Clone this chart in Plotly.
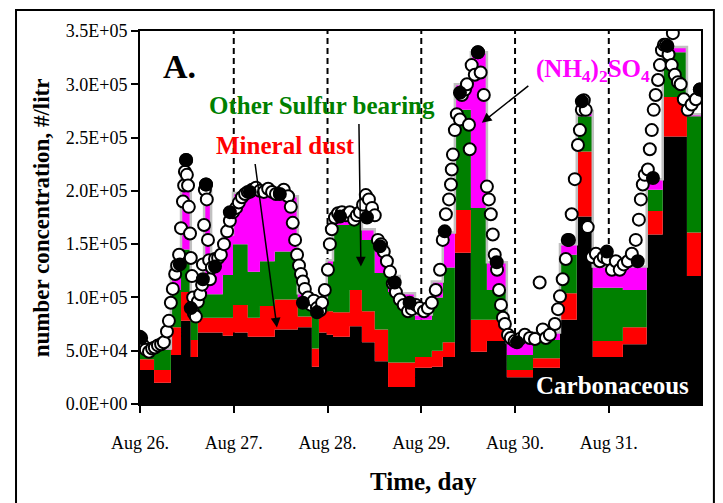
import plotly.graph_objects as go
from datetime import datetime, timedelta

# ---------------- data (concentrations in thousands of particles / litre) ----------------
BASE = datetime(2003, 8, 26)
END_HOUR = 143.6

# start of each sampling step, hours after Aug 26 00:00
seg_hours = [0.0, 3.6, 7.9, 10.5, 13.0, 14.8, 16.4, 18.2, 21.2, 23.8,
             27.6, 30.7, 34.5, 40.4, 44.0, 45.8, 47.8, 49.4, 53.7, 56.8,
             60.1, 63.5, 66.5, 70.4, 74.7, 77.5, 80.6, 84.7, 88.8, 93.9,
             100.6, 107.5, 111.8, 115.9, 123.6, 129.7, 133.8, 140.0]

carbonaceous = [32, 20, 46, 78, 44, 67, 67, 67, 64, 67,
                63, 63, 70, 72, 35, 67, 65, 63, 73, 58,
                40, 16, 16, 34, 35, 44, 142, 49, 59, 25,
                34, 79, 176, 44, 56, 159, 251, 120]
mineral_dust = [10, 12, 26, 27, 16, 14, 14, 14, 17, 26,
                18, 29, 28, 10, 17, 20, 22, 23, 34, 29,
                30, 23, 23, 10, 15, 14, 40, 30, 20, 7,
                9, 25, 61, 15, 16, 22, 37, 41]
other_sulfur = [9, 19, 35, 40, 30, 20, 22, 22, 40, 57,
                43, 42, 45, 18, 35, 3, 43, 82, 63, 67,
                53, 66, 61, 35, 50, 70, 94, 105, 28, 14,
                17, 36, 33, 50, 35, 20, 42, 109]
ammonium_sulfate = [1, 1, 21, 70, 8, 2, 103, 33, 38, 48,
                    74, 64, 52, 4, 3, 3, 5, 10, 8, 10,
                    25, 15, 4, 5, 15, 33, 24, 146, 26, 12,
                    7, 10, 5, 20, 22, 10, 5, 2]

# total measured concentration (open circles)
total_hours = [0.0, 0.8, 1.5, 2.3, 3.1, 3.8, 4.6, 5.4, 6.1, 6.9,
               7.4, 7.9, 8.4, 9.0, 9.5, 10.0, 10.5, 11.0, 11.3, 11.5,
               11.8, 12.0, 12.3, 12.5, 12.8, 13.0, 13.3, 13.6, 13.8, 14.3,
               14.8, 15.4, 15.9, 16.1, 16.4, 16.6, 16.9, 17.1, 17.4, 17.7,
               17.9, 18.4, 19.2, 20.0, 20.7, 21.5, 22.3, 23.0, 23.8, 24.6,
               25.3, 26.1, 26.9, 27.6, 28.7, 29.7, 30.7, 31.7, 32.8, 33.8,
               34.8, 35.8, 36.8, 37.9, 38.6, 39.1, 39.7, 40.2, 40.7, 41.2,
               41.7, 42.2, 43.0, 43.8, 44.5, 45.3, 46.1, 46.6, 47.3, 48.1,
               48.6, 49.1, 49.9, 50.7, 51.7, 52.7, 53.7, 54.8, 55.5, 56.3,
               57.1, 57.8, 58.6, 59.4, 60.1, 60.9, 61.7, 62.4, 63.2, 64.0,
               64.7, 65.5, 66.5, 67.5, 68.6, 69.6, 70.6, 71.6, 72.7, 73.7,
               74.7, 75.7, 76.8, 77.5, 78.3, 79.1, 79.6, 79.8, 80.1, 80.6,
               81.1, 81.9, 82.4, 83.2, 83.7, 84.2, 84.4, 84.9, 85.7, 86.5,
               87.2, 88.0, 88.8, 89.3, 89.8, 90.3, 90.8, 91.4, 91.9, 92.4,
               92.9, 93.4, 94.2, 94.9, 95.9, 97.2, 98.5, 99.8, 101.1, 102.3,
               103.1, 103.9, 104.9, 106.2, 107.0, 107.5, 108.2, 109.0, 109.8, 110.5,
               111.3, 112.1, 112.6, 113.1, 113.6, 114.1, 114.6, 115.7, 116.7, 117.7,
               118.7, 119.7, 120.8, 121.8, 122.8, 123.8, 124.9, 125.9, 126.9, 127.7,
               128.2, 128.7, 129.2, 130.0, 130.5, 131.0, 131.5, 132.0, 132.6, 133.1,
               133.6, 134.1, 134.6, 135.3, 136.1, 136.4, 136.9, 137.7, 138.4, 139.2,
               140.2, 141.2, 142.3, 143.3]
total_values = [63, 55, 51, 49, 52, 53, 55, 56, 58, 68,
                78, 95, 108, 122, 130, 140, 165, 190, 205, 218,
                229, 215, 205, 185, 160, 137, 120, 100, 85, 82,
                96, 103, 112, 131, 168, 201, 206, 192, 154, 135,
                117, 128, 136, 137, 140, 150, 162, 172, 180, 184,
                189, 194, 197, 199, 201, 203, 200, 199, 202, 199,
                197, 198, 201, 195, 185, 170, 154, 140, 130, 122,
                115, 108, 100, 93, 97, 90, 88, 95, 107, 126,
                150, 164, 175, 179, 180, 177, 180, 173, 177, 180,
                187, 196, 192, 184, 177, 154, 150, 143, 134, 124,
                113, 105, 98, 93, 87, 89, 93, 90, 87, 90,
                95, 107, 126, 154, 178, 192, 206, 220, 234, 257,
                272, 267, 290, 295, 300, 262, 239, 318, 309, 330,
                311, 290, 204, 192, 178, 159, 140, 126, 107, 93,
                81, 75, 65, 62, 59, 61, 65, 62, 61, 114,
                70, 62, 65, 75, 89, 101, 117, 136, 154, 178,
                211, 243, 257, 276, 285, 276, 166, 138, 141, 134,
                138, 136, 126, 134, 126, 131, 134, 141, 154, 173,
                192, 206, 215, 220, 239, 257, 276, 290, 304, 318,
                332, 337, 337, 328, 318, 348, 309, 302, 300, 286,
                276, 281, 286, 295]

# samples drawn as filled (dark) circles
dark_hours = [0.3, 10.2, 11.8, 13.0, 16.1, 16.9, 19.2, 23.0, 28.1, 35.8,
              41.7, 45.3, 51.2, 58.1, 61.4, 65.2, 69.0, 78.0, 81.9, 86.5,
              91.3, 96.5, 109.5, 113.1, 119.5, 127.4, 131.3, 135.0, 143.3]
dark_values = [62, 131, 229, 90, 117, 206, 129, 180, 199, 197,
               95, 86, 176, 175, 148, 114, 95, 162, 292, 330,
               133, 58, 154, 284, 143, 134, 212, 336, 295]

day_labels = ["Aug 26.", "Aug 27.", "Aug 28.", "Aug 29.", "Aug 30.", "Aug 31."]
y_ticks = [0, 50000, 100000, 150000, 200000, 250000, 300000, 350000]
y_ticktext = ["0.0E+00", "5.0E+04", "1.0E+05", "1.5E+05", "2.0E+05", "2.5E+05", "3.0E+05", "3.5E+05"]

# ---------------- figure ----------------
def t(h):
    return BASE + timedelta(hours=h)

FONT = "Liberation Serif"
seg_x = [t(h) for h in seg_hours] + [t(END_HOUR)]

def k(vals):
    v = [x * 1000 for x in vals]
    return v + [v[-1]]

fig = go.Figure()
layers = [
    ("Carbonaceous", carbonaceous, "#000000", dict(width=0, color="#000000")),
    ("Mineral dust", mineral_dust, "#ff0000", dict(width=0, color="#ff0000")),
    ("Other Sulfur bearing", other_sulfur, "#008000", dict(width=0, color="#008000")),
    ("(NH4)2SO4", ammonium_sulfate, "#ff00ff", dict(width=2.5, color="#c0c0c0")),
]
for name, vals, col, ln in layers:
    ln = dict(ln, shape="hv")
    fig.add_trace(go.Scatter(x=seg_x, y=k(vals), name=name, mode="lines",
                             stackgroup="comp", line=ln, fillcolor=col,
                             showlegend=False, hoverinfo="skip"))

fig.add_trace(go.Scatter(x=[t(h) for h in total_hours], y=[v * 1000 for v in total_values],
                         mode="markers", showlegend=False,
                         marker=dict(size=12, color="white", line=dict(color="black", width=2))))
fig.add_trace(go.Scatter(x=[t(h) for h in dark_hours], y=[v * 1000 for v in dark_values],
                         mode="markers", showlegend=False,
                         marker=dict(size=12, color="black", line=dict(color="black", width=2))))

shapes = []
for d in range(1, 6):
    shapes.append(dict(type="line", xref="x", yref="paper", x0=t(24 * d), x1=t(24 * d), y0=0, y1=1,
                       line=dict(color="black", width=2, dash="6px,4px"), layer="below"))
shapes.append(dict(type="rect", xref="paper", yref="paper", x0=-0.221, x1=1.023, y0=-0.27, y1=1.056,
                   line=dict(color="black", width=2), fillcolor="rgba(0,0,0,0)", layer="above"))

ann = []
def txt(text, x, y, size, color, angle=0):
    ann.append(dict(text=text, x=x, y=y, xref="paper", yref="paper", showarrow=False,
                    xanchor="center", yanchor="middle", textangle=angle,
                    font=dict(family=FONT, size=size, color=color)))

txt("<b>A.</b>", 0.0713, 0.9036, 34, "black")
txt("<b>Other Sulfur bearing</b>", 0.3244, 0.7992, 25, "#008000")
txt("<b>Mineral dust</b>", 0.2602, 0.6921, 25, "#ff0000")
txt("<b>(NH<sub>4</sub>)<sub>2</sub>SO<sub>4</sub></b>", 0.8075, 0.893, 25, "#ff00ff")
txt("<b>Carbonaceous</b>", 0.8431, 0.0495, 25, "white")
txt("<b>Time, day</b>", 0.506, -0.2075, 25, "black")
txt("<b>number concentration, #/litr</b>", -0.175, 0.50, 23, "black", angle=-90)

for hx, val, ax, ay in [(35.05, 71800, -22, -165), (56.55, 129000, -2, -144), (87.5, 264000, 48, -38)]:
    ann.append(dict(x=t(hx), y=val, xref="x", yref="y", text="", showarrow=True,
                    ax=ax, ay=ay, arrowhead=2, arrowsize=1.3, arrowwidth=1.5, arrowcolor="black"))

fig.update_layout(
    width=723, height=503,
    margin=dict(l=140, r=22, t=31, b=98.5),
    paper_bgcolor="white", plot_bgcolor="white",
    shapes=shapes, annotations=ann, showlegend=False,
    font=dict(family=FONT, color="black"),
    xaxis=dict(type="date", range=[t(0), t(END_HOUR)],
               tickvals=[t(24 * i) for i in range(6)], ticktext=day_labels,
               ticks="outside", ticklen=7, tickwidth=2, tickcolor="black",
               showline=True, linewidth=2, linecolor="black", mirror=True,
               showgrid=False, zeroline=False, ticklabelstandoff=14,
               tickfont=dict(family=FONT, size=18, color="black")),
    yaxis=dict(range=[0, 350000], tickvals=y_ticks, ticktext=y_ticktext,
               ticks="outside", ticklen=7, tickwidth=2, tickcolor="black",
               showline=True, linewidth=2, linecolor="black", mirror=True,
               showgrid=False, zeroline=False,
               tickfont=dict(family=FONT, size=18, color="black")),
)

fig.write_html("out.html")
